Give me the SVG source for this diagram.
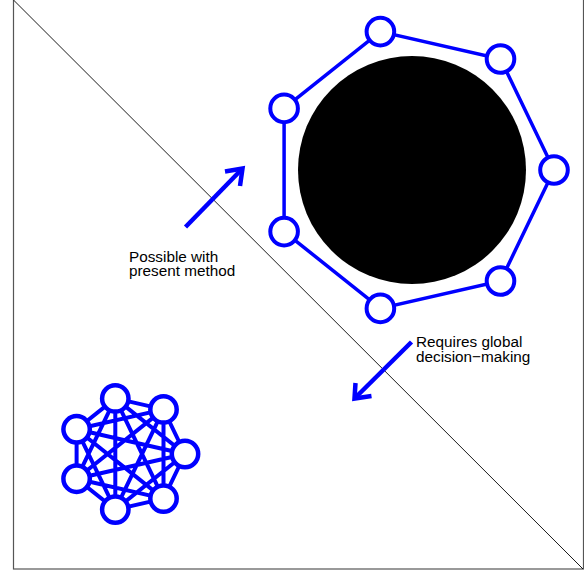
<svg xmlns="http://www.w3.org/2000/svg" width="584" height="571" viewBox="0 0 584 571">
<style>
.frame{fill:#fff;stroke:#555;stroke-width:1.2}
.diag{stroke:#000;stroke-width:0.9;fill:none}
.edge{stroke:#0000ff;stroke-width:3.5;fill:none;stroke-linecap:round}
.sedge{stroke:#0000ff;stroke-width:4;fill:none}
.node{fill:#fff;stroke:#0000ff;stroke-width:4}
.snode{fill:#fff;stroke:#0000ff;stroke-width:4.5}
.arrow{stroke:#0000ff;stroke-width:4.5;fill:none;stroke-linecap:butt;stroke-linejoin:miter}
.lbl{font-family:"Liberation Sans",Arial,sans-serif;font-size:15.3px;fill:#000}
</style>
<rect class="frame" x="13.5" y="-1" width="570" height="570"/>
<line class="diag" x1="13.5" y1="0" x2="583" y2="569"/>
<circle id="obstacle" cx="412" cy="170" r="114" fill="#000"/>
<g id="connectors">
  <polygon class="edge" points="554,170 500.5,281 380.4,308.4 284.1,231.6 284.1,108.4 380.4,31.6 500.5,59"/>
  <g id="small-edges" class="sedge">
    <path d="M185,454 L163.5,498.6 M185,454 L115.3,509.6 M185,454 L76.6,478.7 M185,454 L76.6,429.3 M185,454 L115.3,398.4 M185,454 L163.5,409.4
    M163.5,498.6 L115.3,509.6 M163.5,498.6 L76.6,478.7 M163.5,498.6 L76.6,429.3 M163.5,498.6 L115.3,398.4 M163.5,498.6 L163.5,409.4
    M115.3,509.6 L76.6,478.7 M115.3,509.6 L76.6,429.3 M115.3,509.6 L115.3,398.4 M115.3,509.6 L163.5,409.4
    M76.6,478.7 L76.6,429.3 M76.6,478.7 L115.3,398.4 M76.6,478.7 L163.5,409.4
    M76.6,429.3 L115.3,398.4 M76.6,429.3 L163.5,409.4
    M115.3,398.4 L163.5,409.4"/>
  </g>
  <g id="arrow-up">
    <line class="arrow" x1="185.5" y1="227" x2="242.5" y2="168.5"/>
    <polyline class="arrow" points="225,171.5 242.5,168.5 240,186"/>
  </g>
  <g id="arrow-down">
    <line class="arrow" x1="411.5" y1="342" x2="354.5" y2="398.5"/>
    <polyline class="arrow" points="355.5,383 354.5,398.5 371.5,396"/>
  </g>
</g>
<g id="ring-large">
  <circle id="L0" class="node" cx="554" cy="170" r="13.8"/>
  <circle id="L1" class="node" cx="500.5" cy="281" r="13.8"/>
  <circle id="L2" class="node" cx="380.4" cy="308.4" r="13.8"/>
  <circle id="L3" class="node" cx="284.1" cy="231.6" r="13.8"/>
  <circle id="L4" class="node" cx="284.1" cy="108.4" r="13.8"/>
  <circle id="L5" class="node" cx="380.4" cy="31.6" r="13.8"/>
  <circle id="L6" class="node" cx="500.5" cy="59" r="13.8"/>
</g>
<g id="ring-small">
  <circle id="S0" class="snode" cx="185" cy="454" r="13.2"/>
  <circle id="S1" class="snode" cx="163.5" cy="498.6" r="13.2"/>
  <circle id="S2" class="snode" cx="115.3" cy="509.6" r="13.2"/>
  <circle id="S3" class="snode" cx="76.6" cy="478.7" r="13.2"/>
  <circle id="S4" class="snode" cx="76.6" cy="429.3" r="13.2"/>
  <circle id="S5" class="snode" cx="115.3" cy="398.4" r="13.2"/>
  <circle id="S6" class="snode" cx="163.5" cy="409.4" r="13.2"/>
</g>
<g id="label-possible">
  <text class="lbl" x="129" y="261.5">Possible with</text>
  <text class="lbl" x="129" y="276">present method</text>
</g>
<g id="label-requires">
  <text class="lbl" x="416" y="347">Requires global</text>
  <text class="lbl" x="416" y="361.5">decision−making</text>
</g>
</svg>
